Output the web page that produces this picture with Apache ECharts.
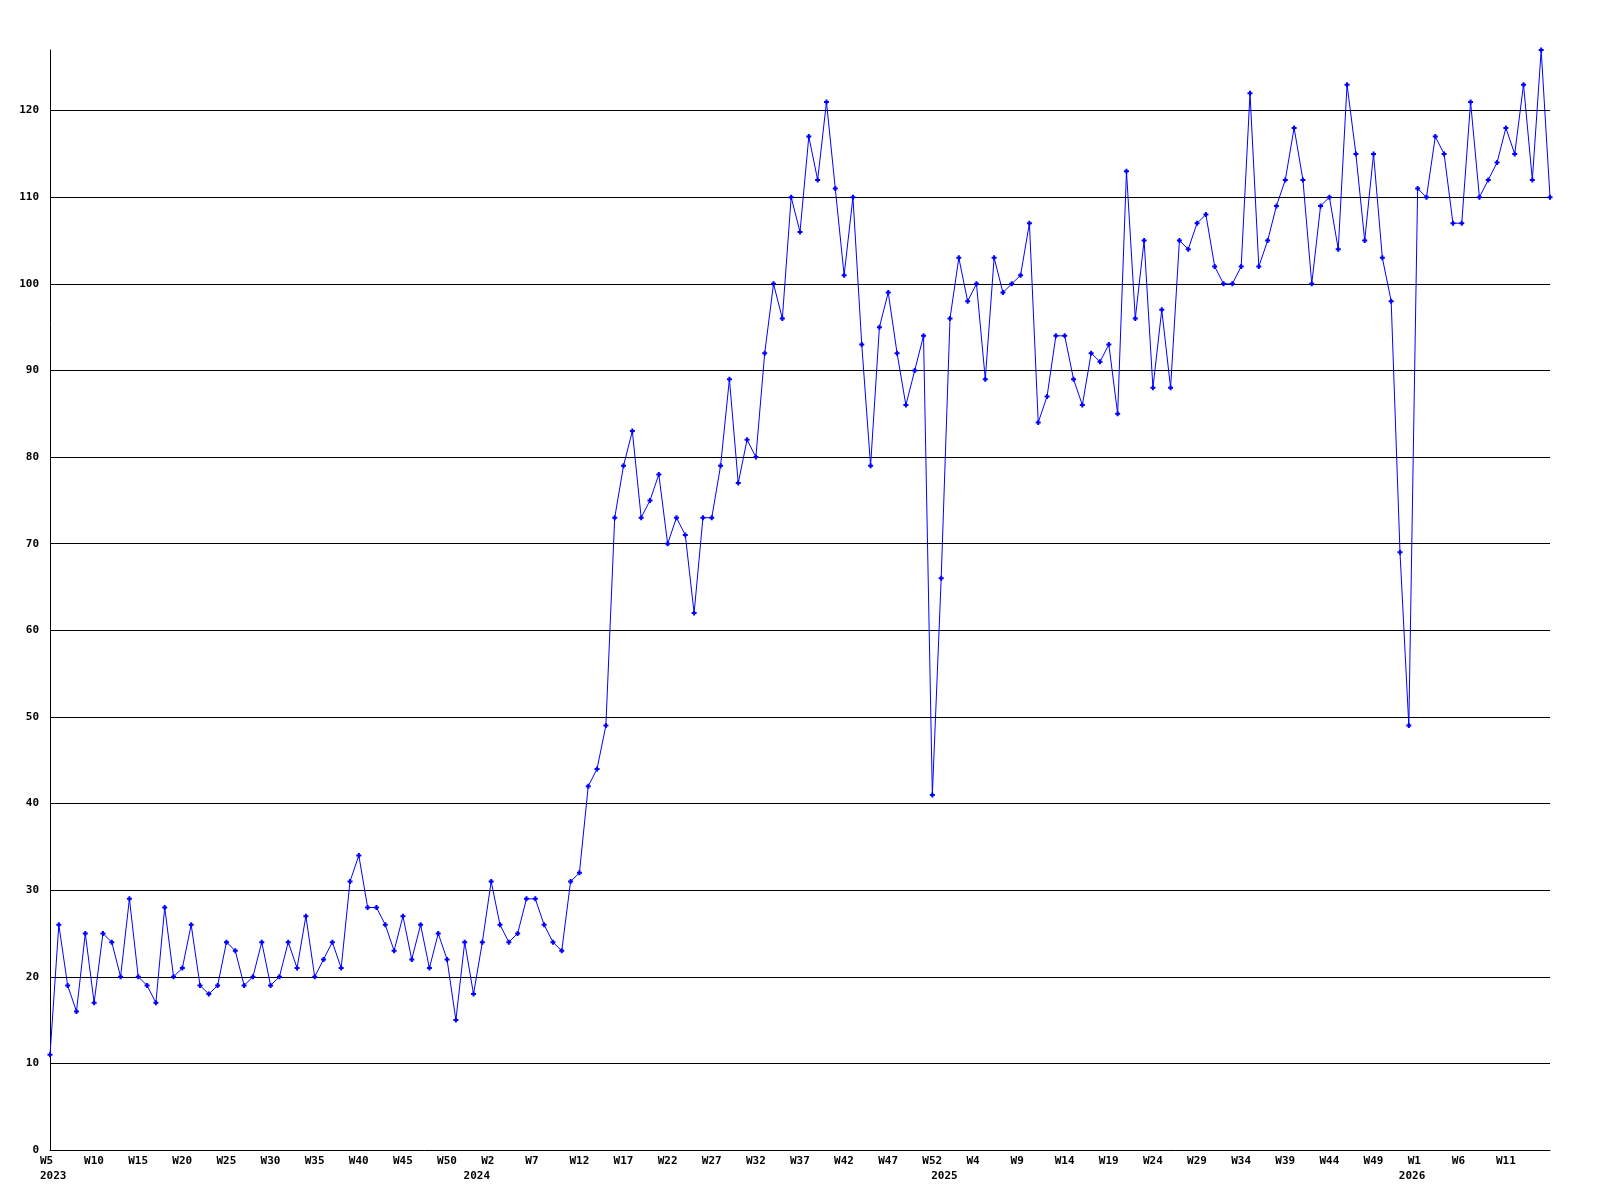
<!DOCTYPE html>
<html>
<head>
<meta charset="utf-8">
<script src="https://cdn.jsdelivr.net/npm/echarts@6/dist/echarts.min.js"></script>
<style>
html,body{margin:0;padding:0;background:#fff;}
#chart{width:1600px;height:1200px;}
</style>
</head>
<body>
<div id="chart"></div>
<script>
// Week ranges per year: [year, firstWeek, lastWeek]
const weekRanges = [[2023, 5, 52], [2024, 0, 52], [2025, 0, 52], [2026, 0, 16]];

// Weekly values (one per week, in order)
const values = [
  11, 26, 19, 16, 25, 17, 25, 24, 20, 29,
  20, 19, 17, 28, 20, 21, 26, 19, 18, 19,
  24, 23, 19, 20, 24, 19, 20, 24, 21, 27,
  20, 22, 24, 21, 31, 34, 28, 28, 26, 23,
  27, 22, 26, 21, 25, 22, 15, 24, 18, 24,
  31, 26, 24, 25, 29, 29, 26, 24, 23, 31,
  32, 42, 44, 49, 73, 79, 83, 73, 75, 78,
  70, 73, 71, 62, 73, 73, 79, 89, 77, 82,
  80, 92, 100, 96, 110, 106, 117, 112, 121, 111,
  101, 110, 93, 79, 95, 99, 92, 86, 90, 94,
  41, 66, 96, 103, 98, 100, 89, 103, 99, 100,
  101, 107, 84, 87, 94, 94, 89, 86, 92, 91,
  93, 85, 113, 96, 105, 88, 97, 88, 105, 104,
  107, 108, 102, 100, 100, 102, 122, 102, 105, 109,
  112, 118, 112, 100, 109, 110, 104, 123, 115, 105,
  115, 103, 98, 69, 49, 111, 110, 117, 115, 107,
  107, 121, 110, 112, 114, 118, 115, 123, 112, 127,
  110
];

const yTicks = [0, 10, 20, 30, 40, 50, 60, 70, 80, 90, 100, 110, 120];
const yMax = 127;
const labelEvery = 5;

// build category labels
const categories = [];
const weekNames = [];
const yearStart = {};
weekRanges.forEach(([yr, a, b]) => {
  yearStart[categories.length] = String(yr);
  for (let w = a; w <= b; w++) {
    categories.push(yr + '-W' + w);
    weekNames.push('W' + w);
  }
});
const lastIdx = categories.length - 1;

const FONT = '"DejaVu Sans Mono", "Liberation Mono", monospace';
const chart = echarts.init(document.getElementById('chart'), null, {renderer: 'canvas'});

const plusPath = 'path://M1.5,0H3.5V1.5H5V3.5H3.5V5H1.5V3.5H0V1.5H1.5Z';

chart.setOption({
  backgroundColor: '#ffffff',
  animation: false,
  grid: {left: 50, right: 50, top: 50, bottom: 50, containLabel: false},
  xAxis: [{
    type: 'category',
    data: categories,
    boundaryGap: false,
    axisLine: {show: true, lineStyle: {color: '#000', width: 1}},
    axisTick: {show: false},
    splitLine: {show: false},
    axisLabel: {
      interval: (i) => i % labelEvery === 0 && i < lastIdx,
      margin: 6,
      color: '#000',
      fontFamily: FONT,
      fontWeight: 'bold',
      fontSize: 11,
      formatter: (v, i) => '{a|' + weekNames[i] + '}',
      rich: {a: {width: 20, align: 'left', fontFamily: FONT, fontWeight: 'bold', fontSize: 11, color: '#000'}}
    }
  }, {
    type: 'category',
    data: categories,
    boundaryGap: false,
    position: 'bottom',
    offset: 15,
    axisLine: {show: false},
    axisTick: {show: false},
    splitLine: {show: false},
    axisLabel: {
      interval: (i) => yearStart[i] !== undefined,
      margin: 6,
      color: '#000',
      fontFamily: FONT,
      fontWeight: 'bold',
      fontSize: 11,
      formatter: (v, i) => '{a|' + (yearStart[i] || '') + '}',
      rich: {a: {width: 20, align: 'left', fontFamily: FONT, fontWeight: 'bold', fontSize: 11, color: '#000'}}
    }
  }],
  yAxis: {
    type: 'value',
    min: 0,
    max: yMax,
    interval: 10,
    axisLine: {show: true, lineStyle: {color: '#000', width: 1}},
    axisTick: {show: false},
    axisLabel: {
      margin: 11,
      color: '#000',
      fontFamily: FONT,
      fontWeight: 'bold',
      fontSize: 11,
      showMaxLabel: false,
      formatter: (v) => (yTicks.indexOf(v) >= 0 ? String(v) : '')
    },
    splitLine: {show: true, showMaxLine: false, showMinLine: false, lineStyle: {color: '#000', width: 1}}
  },
  series: [{
    type: 'line',
    xAxisIndex: 0,
    data: values,
    symbol: plusPath,
    symbolSize: 5,
    showSymbol: true,
    showAllSymbol: true,
    lineStyle: {color: '#0000ff', width: 1},
    itemStyle: {color: '#0000ff'},
    emphasis: {disabled: true},
    silent: true
  }]
});
</script>
</body>
</html>
